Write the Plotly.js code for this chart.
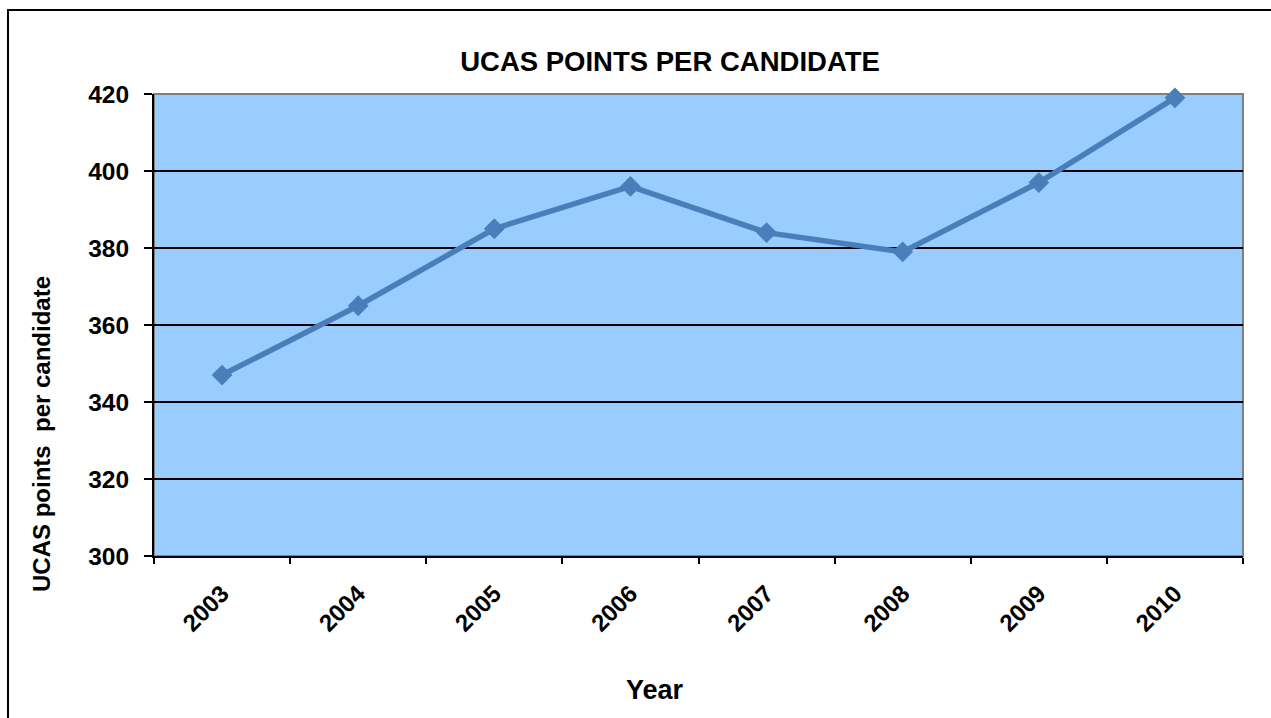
<!DOCTYPE html>
<html>
<head>
<meta charset="utf-8">
<script src="https://cdn.plot.ly/plotly-3.0.1.min.js"></script>
<style>
  html, body { margin: 0; padding: 0; background: #fff; overflow: hidden; }
  #frame { position: absolute; left: 7px; top: 9px; width: 1264px; height: 709px;
           border-left: 2px solid #000; border-top: 2px solid #000; box-sizing: border-box; }
  #chart { position: absolute; left: 0; top: 0; width: 1262px; height: 707px; }
</style>
</head>
<body>
<div id="frame"><div id="chart"></div></div>
<script>
const years = ['2003', '2004', '2005', '2006', '2007', '2008', '2009', '2010'];
const points = [347, 365, 385, 396, 384, 379, 397, 419];
const yTicks = [300, 320, 340, 360, 380, 400, 420];

const FONT = 'Liberation Sans, Arial, sans-serif';

const trace = {
  type: 'scatter',
  mode: 'lines+markers',
  x: years,
  y: points,
  line: { color: '#4A7EBB', width: 5.5 },
  marker: { symbol: 'diamond', size: 16, color: '#4A7EBB' },
  cliponaxis: false,
  hoverinfo: 'x+y'
};

const layout = {
  width: 1262,
  height: 707,
  margin: { l: 145, r: 28, t: 83, b: 162 },
  paper_bgcolor: 'rgba(0,0,0,0)',
  plot_bgcolor: '#99CCFF',
  showlegend: false,
  font: { family: FONT, color: '#000' },
  title: {
    text: 'UCAS POINTS PER CANDIDATE',
    font: { family: FONT, size: 27.5, weight: 'bold', color: '#000' },
    xref: 'container', x: 0.5238, xanchor: 'center',
    yref: 'container', y: 0.9293, yanchor: 'middle'
  },
  xaxis: {
    type: 'category',
    range: [-0.5, 7.5],
    tickson: 'boundaries',
    ticks: 'outside', ticklen: 6, tickwidth: 2, tickcolor: '#000',
    showline: true, linecolor: '#000', linewidth: 2,
    showgrid: false, zeroline: false,
    tickangle: -45,
    ticklabelstandoff: 12,
    tickfont: { family: FONT, size: 24, weight: 'bold', color: '#000' }
  },
  yaxis: {
    range: [300, 420],
    tickmode: 'array',
    tickvals: yTicks,
    ticktext: yTicks.map(String),
    ticks: 'outside', ticklen: 8, tickwidth: 2, tickcolor: '#000',
    showline: true, linecolor: '#000', linewidth: 2,
    showgrid: true, gridcolor: '#000', gridwidth: 1.5,
    zeroline: false,
    ticklabelstandoff: 10,
    tickfont: { family: FONT, size: 24.5, weight: 'bold', color: '#000' }
  },
  shapes: [{
    type: 'rect', xref: 'paper', yref: 'paper', x0: 0, x1: 1, y0: 0, y1: 1,
    line: { color: '#808080', width: 2 }, layer: 'below'
  }],
  annotations: [
    {
      text: 'Year', xref: 'paper', yref: 'paper',
      x: 0.46, y: -0.29, xanchor: 'center', yanchor: 'middle', showarrow: false,
      font: { family: FONT, size: 27, weight: 'bold', color: '#000' }
    },
    {
      text: 'UCAS points  per candidate', xref: 'paper', yref: 'paper',
      x: -0.1038, y: 0.264, xanchor: 'center', yanchor: 'middle', showarrow: false,
      textangle: -90,
      font: { family: FONT, size: 24, weight: 'bold', color: '#000' }
    }
  ]
};

Plotly.newPlot('chart', [trace], layout, { displayModeBar: false, staticPlot: true });
</script>
</body>
</html>
